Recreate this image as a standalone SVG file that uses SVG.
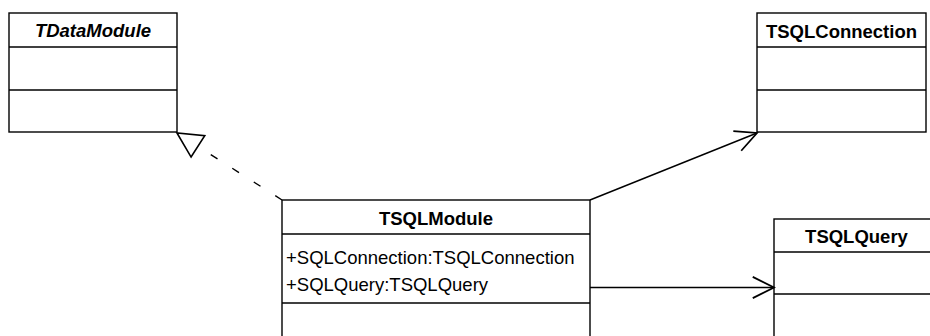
<svg xmlns="http://www.w3.org/2000/svg" width="930" height="336" viewBox="0 0 930 336">
<style>
.box{fill:#fff;stroke:#000;stroke-width:1.4}
.div{stroke:#000;stroke-width:1.4}
.name{font-family:"Liberation Sans",Arial,sans-serif;font-size:18.5px;font-weight:bold;text-anchor:middle;fill:#000}
.attr{font-family:"Liberation Sans",Arial,sans-serif;font-size:18.5px;fill:#000}
.conn{fill:none;stroke:#000;stroke-width:1.4}
</style>
<defs>
<marker id="open" markerUnits="userSpaceOnUse" markerWidth="30" markerHeight="30" refX="0" refY="0" viewBox="-20 -12 22 24" orient="auto" overflow="visible">
<path d="M-17,-8.5 L0,0 L-17,8.5" fill="none" stroke="#000" stroke-width="1.4"/>
</marker>
<marker id="tri" markerUnits="userSpaceOnUse" markerWidth="30" markerHeight="30" refX="0" refY="0" viewBox="-24 -13 26 26" orient="auto" overflow="visible">
<path d="M0,0 L-21.5,-11 L-21.5,11 Z" fill="#fff" stroke="#000" stroke-width="1.4"/>
</marker>
</defs>
<g id="TDataModule">
<rect class="box" x="9" y="13" width="168" height="119"/>
<line class="div" x1="9" y1="47" x2="177" y2="47"/>
<line class="div" x1="9" y1="90" x2="177" y2="90"/>
<text class="name" x="93" y="37" font-style="italic">TDataModule</text>
</g>
<g id="TSQLConnection">
<rect class="box" x="757" y="13" width="169" height="119"/>
<line class="div" x1="757" y1="47" x2="926" y2="47"/>
<line class="div" x1="757" y1="90" x2="926" y2="90"/>
<text class="name" x="841.5" y="37.5">TSQLConnection</text>
</g>
<g id="TSQLModule">
<rect class="box" x="282" y="200" width="308" height="150"/>
<line class="div" x1="282" y1="234" x2="590" y2="234"/>
<line class="div" x1="282" y1="303" x2="590" y2="303"/>
<text class="name" x="436" y="225">TSQLModule</text>
<text class="attr" x="286" y="264">+SQLConnection:TSQLConnection</text>
<text class="attr" x="286" y="291">+SQLQuery:TSQLQuery</text>
</g>
<g id="TSQLQuery">
<rect class="box" x="774" y="219" width="166" height="130"/>
<line class="div" x1="774" y1="252" x2="940" y2="252"/>
<line class="div" x1="774" y1="294" x2="940" y2="294"/>
<text class="name" x="856.5" y="242.5">TSQLQuery</text>
</g>
<g id="connectors">
<path class="conn" d="M282,200 L177,133" stroke-dasharray="8 17.5" marker-end="url(#tri)"/>
<path class="conn" d="M590,200 L757,133" marker-end="url(#open)"/>
<path class="conn" d="M590,287.5 L774,287.5" marker-end="url(#open)"/>
</g>
</svg>
